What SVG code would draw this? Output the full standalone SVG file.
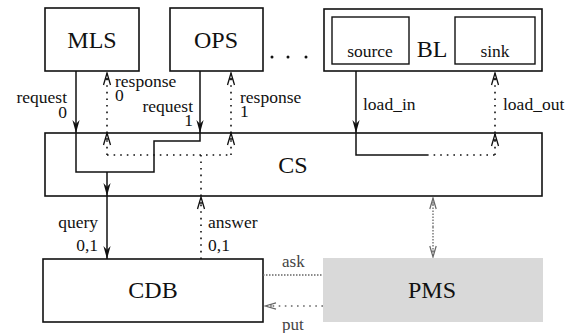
<svg xmlns="http://www.w3.org/2000/svg" width="570" height="333" viewBox="0 0 570 333" font-family="'Liberation Serif', 'Times New Roman', Times, serif">
  <style>
    text { font-family: "Liberation Serif", "Times New Roman", Times, serif; }
    .box { fill: #fff; stroke: #111; stroke-width: 1.6; }
    .inner { fill: #fff; stroke: #111; stroke-width: 1.4; }
    .big { font-size: 24px; fill: #111; text-anchor: middle; }
    .lbl { font-size: 17.5px; fill: #111; }
    .gl { font-size: 17px; fill: #444; }
    .solid { fill: none; stroke: #111; stroke-width: 1.5; }
    .dot { fill: none; stroke: #111; stroke-width: 1.6; stroke-dasharray: 1.6 5; }
    .gdot { fill: none; stroke: #666; stroke-width: 1.3; stroke-dasharray: 1.5 1.5; }
    .gdot2 { fill: none; stroke: #666; stroke-width: 1.5; stroke-dasharray: 1.6 4.5; }
  </style>
  <defs>
    <marker id="solidHead" markerUnits="userSpaceOnUse" viewBox="-13 -5 14 10" refX="0" refY="0" markerWidth="14" markerHeight="10" orient="auto">
      <path d="M0,0 L-13,-3.6 L-9,0 L-13,3.6 Z" fill="#111"/>
    </marker>
    <marker id="openHead" markerUnits="userSpaceOnUse" viewBox="-13 -5 14 10" refX="0" refY="0" markerWidth="14" markerHeight="10" orient="auto">
      <path d="M-12,-3.5 L0,0 L-12,3.5 M-6,-2 L-6,2" fill="none" stroke="#111" stroke-width="1.3"/>
    </marker>
    <marker id="grayHead" markerUnits="userSpaceOnUse" viewBox="-13 -5 14 10" refX="0" refY="0" markerWidth="14" markerHeight="10" orient="auto">
      <path d="M-11,-3.2 L0,0 L-11,3.2 M-6,-2 L-6,2" fill="none" stroke="#666" stroke-width="1.2"/>
    </marker>
  </defs>

  <!-- components -->
  <g id="MLS">
    <rect class="box" x="45" y="8" width="94" height="63"/>
    <text class="big" x="92" y="48" font-size="25">MLS</text>
  </g>
  <g id="OPS">
    <rect class="box" x="170" y="8" width="93" height="63"/>
    <text class="big" x="216" y="48" font-size="25">OPS</text>
  </g>
  <g id="ellipsis">
    <circle cx="272" cy="57" r="1.5" fill="#111"/>
    <circle cx="288" cy="57" r="1.5" fill="#111"/>
    <circle cx="306" cy="57" r="1.5" fill="#111"/>
  </g>
  <g id="BL">
    <rect class="box" x="324" y="9" width="218" height="62"/>
    <rect class="inner" x="332" y="17" width="77" height="47"/>
    <rect class="inner" x="455" y="17" width="80" height="47"/>
    <text class="big" x="432" y="57" font-size="25">BL</text>
    <text class="lbl" x="370" y="57" text-anchor="middle">source</text>
    <text class="lbl" x="495" y="57" text-anchor="middle">sink</text>
  </g>
  <g id="CS">
    <rect class="box" x="45" y="133" width="497" height="63"/>
    <text class="big" x="293" y="173">CS</text>
  </g>
  <g id="CDB">
    <rect class="box" x="43" y="259" width="220" height="63"/>
    <text class="big" x="153" y="298">CDB</text>
  </g>
  <g id="PMS">
    <rect x="323" y="258" width="220" height="64" fill="#d9d9d9"/>
    <text class="big" x="432" y="298">PMS</text>
  </g>

  <!-- connectors -->
  <g id="connectors">
    <!-- requests and routing inside CS -->
    <path class="solid" d="M76,71 V133" marker-end="url(#solidHead)"/>
    <path class="solid" d="M200,71 V133" marker-end="url(#solidHead)"/>
    <path class="solid" d="M76,133 V172 H154 V141 H200 V133"/>
    <path class="solid" d="M107,172 V196" marker-end="url(#solidHead)"/>
    <path class="solid" d="M107,196 V259" marker-end="url(#solidHead)"/>

    <!-- responses and answer -->
    <path class="dot" d="M107,155 V133" marker-end="url(#openHead)"/>
    <path class="dot" d="M107,133 V73" marker-end="url(#openHead)"/>
    <path class="dot" d="M107,155 H231"/>
    <path class="dot" d="M231,155 V133" marker-end="url(#openHead)"/>
    <path class="dot" d="M231,133 V73" marker-end="url(#openHead)"/>
    <path class="dot" d="M201,196 V155"/>
    <path class="dot" d="M201,259 V197" marker-end="url(#openHead)"/>

    <!-- load path -->
    <path class="solid" d="M356,71 V133" marker-end="url(#solidHead)"/>
    <path class="solid" d="M356,133 V155 H427"/>
    <path class="dot" d="M427,155 H495"/>
    <path class="dot" d="M495,155 V134" marker-end="url(#openHead)"/>
    <path class="dot" d="M495,133 V73" marker-end="url(#openHead)"/>

    <!-- CS to PMS -->
    <path class="gdot" d="M433,227 V198" marker-end="url(#grayHead)"/>
    <path class="gdot" d="M433,227 V257" marker-end="url(#grayHead)"/>

    <!-- CDB and PMS -->
    <path class="gdot" d="M263,275 H323"/>
    <path class="gdot2" d="M323,306 H265" marker-end="url(#grayHead)"/>
  </g>

  <!-- connector labels -->
  <g id="labels">
    <text class="lbl" text-anchor="end"><tspan x="67" y="103">request</tspan><tspan x="67" y="118">0</tspan></text>
    <text class="lbl"><tspan x="115" y="87">response</tspan><tspan x="115" y="101">0</tspan></text>
    <text class="lbl" text-anchor="end"><tspan x="193" y="112">request</tspan><tspan x="193" y="126">1</tspan></text>
    <text class="lbl"><tspan x="240" y="103">response</tspan><tspan x="240" y="117">1</tspan></text>
    <text class="lbl" x="363" y="110">load_in</text>
    <text class="lbl" x="503" y="110">load_out</text>
    <text class="lbl" x="98" y="228" text-anchor="end">query</text>
    <text class="lbl" x="98" y="251" text-anchor="end">0,1</text>
    <text class="lbl" x="208" y="228">answer</text>
    <text class="lbl" x="208" y="251">0,1</text>
    <text class="gl" x="282" y="267">ask</text>
    <text class="gl" x="282" y="330">put</text>
  </g>
</svg>
